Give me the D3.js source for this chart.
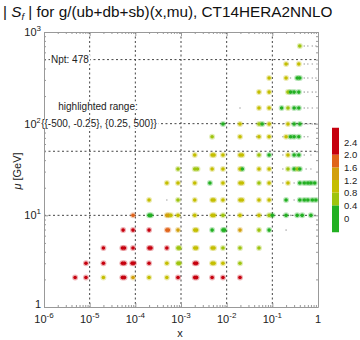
<!DOCTYPE html>
<html><head><meta charset="utf-8">
<script src="https://cdn.jsdelivr.net/npm/d3@7"></script>
<style>body{margin:0;background:#fff}svg{display:block;font-family:"Liberation Sans",Arial,sans-serif}</style>
</head><body><svg id="c" width="360" height="340"></svg>
<script>
// ---- data ----
const rowMu = [2.1, 3.0, 4.4, 6.9, 10, 14.7, 22.5, 32, 45.5, 72, 99, 148, 221, 315, 447, 703];
const rowX = [
 [4.8e-6, 8.3e-6, 2.0e-5, 5.2e-5, 5.8e-5, 8.9e-5, 2.0e-4, 4.9e-4, 8.6e-4, 2.0e-3, 2.2e-3, 4.8e-3, 8.3e-3, 1.96e-2],
 [8.3e-6, 2.0e-5, 5.2e-5, 5.8e-5, 8.5e-5, 9.3e-5, 2.0e-4, 4.9e-4, 8.6e-4, 9.3e-4, 2.0e-3, 2.2e-3, 4.8e-3, 5.3e-3, 8.3e-3, 1.96e-2],
 [2.0e-5, 5.2e-5, 5.8e-5, 8.9e-5, 2.0e-4, 2.2e-4, 4.9e-4, 8.6e-4, 9.3e-4, 2.0e-3, 2.2e-3, 4.8e-3, 5.3e-3, 8.3e-3, 1.96e-2, 5.1e-2],
 [5.4e-5, 8.9e-5, 2.0e-4, 4.9e-4, 5.3e-4, 8.6e-4, 2.0e-3, 2.2e-3, 4.8e-3, 8.3e-3, 9.0e-3, 1.96e-2, 5.1e-2, 8.5e-2, 0.2],
 [8.9e-5, 2.0e-4, 2.2e-4, 4.9e-4, 5.3e-4, 6.0e-4, 8.6e-4, 2.0e-3, 4.8e-3, 5.3e-3, 8.3e-3, 1.96e-2, 5.1e-2, 8.5e-2, 0.1, 0.2, 0.25, 0.35, 0.45, 0.7],
 [2.0e-4, 4.9e-4, 8.6e-4, 2.0e-3, 4.8e-3, 5.3e-3, 8.3e-3, 1.96e-2, 2.2e-2, 5.1e-2, 8.5e-2, 0.2, 0.3, 0.4, 0.5, 0.6, 0.75, 0.9],
 [4.9e-4, 8.6e-4, 2.0e-3, 4.3e-3, 8.3e-3, 1.96e-2, 2.2e-2, 5.1e-2, 8.5e-2, 0.17, 0.22, 0.3, 0.4, 0.5, 0.6, 0.7, 0.85],
 [8.6e-4, 2.0e-3, 2.3e-3, 4.8e-3, 8.3e-3, 1.96e-2, 2.2e-2, 5.1e-2, 8.5e-2, 0.17, 0.22, 0.3, 0.35, 0.4, 0.55, 0.7],
 [2.0e-3, 4.8e-3, 5.3e-3, 8.3e-3, 1.96e-2, 2.2e-2, 5.1e-2, 8.5e-2, 0.17, 0.22, 0.3, 0.38, 0.5, 0.7],
 [4.8e-3, 1.96e-2, 4.5e-2, 5.1e-2, 8.5e-2, 0.17, 0.2, 0.25, 0.3, 0.38, 0.5, 0.6],
 [8.3e-3, 1.96e-2, 5.1e-2, 6.0e-2, 8.5e-2, 0.17, 0.22, 0.3, 0.4, 0.5, 0.6, 0.75, 0.9],
 [1.96e-2, 5.1e-2, 8.5e-2, 0.16, 0.22, 0.3, 0.38, 0.5, 0.6, 0.75, 0.95],
 [5.1e-2, 8.5e-2, 0.22, 0.25, 0.3, 0.38, 0.5, 0.6, 0.75, 0.9],
 [8.5e-2, 0.2, 0.25, 0.35, 0.4, 0.5, 0.6, 0.75, 0.9],
 [0.2, 0.22, 0.38, 0.5, 0.6, 0.75, 0.95],
 [0.4, 0.5, 0.6, 0.75, 0.9]
];
const rowS = [
 [2.5, 2.4, 1.0, 2.5, 2.3, 1.4, 1.1, 1.0, 2.5, 2.5, 2.3, 2.1, 2.0, 2.6],
 [2.4, 2.4, 2.5, 2.4, 2.5, 2.3, 2.6, 1.0, 0.6, 0.5, 2.4, 2.3, 0.9, 0.8, 0.9, 0.6],
 [2.4, 2.5, 2.4, 2.3, 2.4, 2.3, 2.6, 0.7, 0.6, 0.9, 0.8, 0.9, 0.8, 0.7, 0.6, 0.6],
 [2.4, 2.3, 2.5, 1.9, 1.8, 1.5, 0.9, 0.8, 0.35, 0.35, 0.3, 1.5, 0.6, 0.3, 0.1],
 [1.6, 0.35, 0.3, 1.4, 1.2, 1.0, 1.0, 1.0, 1.0, 0.9, 0.4, 1.0, 0.9, 0.7, 0.35, 0.35, 0.1, 0.35, 0.35, 0.35],
 [0.9, 0.1, 0.7, 0.9, 0.9, 0.8, 0.9, 0.9, 0.8, 0.8, 0.8, 0.35, 0.1, 0.35, 0.35, 0.35, 0.35, 0.35],
 [0.9, 0.8, 0.9, 0.35, 0.9, 0.9, 0.8, 0.4, 0.8, 0.1, 0.9, 0.1, 0.35, 0.35, 0.35, 0.35, 0.35],
 [0.7, 0.6, 0.5, 0.9, 0.9, 0.9, 0.35, 0.8, 0.8, 0.1, 0.6, 0.35, 0.4, 0.35, 0.1, 0.1],
 [0.9, 0.9, 0.8, 0.9, 0.9, 0.8, 0.4, 0.35, 0.1, 0.9, 0.35, 0.35, 0.1, 0.1],
 [0.4, 0.9, 0.1, 0.8, 0.8, 0.1, 0.9, 0.35, 0.35, 0.35, 0.1, 0.1],
 [0.35, 0.9, 0.5, 0.35, 0.8, 0.1, 0.9, 0.35, 0.35, 0.1, 0.1, 0.1, 0.1],
 [0.1, 0.9, 0.9, 0.35, 0.6, 0.35, 0.35, 0.1, 0.1, 0.1, 0.1],
 [0.9, 0.9, 0.4, 0.35, 0.35, 0.35, 0.1, 0.1, 0.1, 0.1],
 [0.9, 0.9, 0.1, 0.35, 0.35, 0.1, 0.1, 0.1, 0.1],
 [0.9, 0.1, 0.9, 0.1, 0.1, 0.1, 0.1],
 [0.7, 0.1, 0.1, 0.1, 0.1]
];
const xMajor = [1e-6, 1e-5, 1e-4, 1e-3, 1e-2, 1e-1, 1];
const xExp = ["-6", "-5", "-4", "-3", "-2", "-1", ""];
const yMajor = [1, 10, 100, 1000];
const yExp = ["", "1", "2", "3"];
const gridX = [1e-5, 1e-4, 1e-3, 1e-2, 1e-1];
const gridY = [10, 50, 100, 500];
const cbBreaks = [-0.45, 0.4, 0.8, 1.2, 1.6, 2.0, 2.85];
const cbColors = ["#22b022", "#9ec40e", "#c4be00", "#d2a00c", "#e0641a", "#c6000e"];
const cbTicks = [0, 0.4, 0.8, 1.2, 1.6, 2.0, 2.4];
const threshold = 0.25;

// ---- drawing ----
const svg = d3.select("#c");
const L = 44, R = 318, T = 32, B = 307;
const x = d3.scaleLog().domain([1e-6, 1]).range([L, R]);
const y = d3.scaleLog().domain([1, 1000]).range([B, T]);
const color = d3.scaleThreshold().domain(cbBreaks.slice(1, -1)).range(cbColors);

// grid
svg.append("g").selectAll("line").data(gridX).join("line")
  .attr("x1", d => x(d)).attr("x2", d => x(d)).attr("y1", T).attr("y2", B)
  .attr("stroke", "#444").attr("stroke-width", 1).attr("stroke-dasharray", "2,2.5");
svg.append("g").selectAll("line").data(gridY).join("line")
  .attr("y1", d => y(d)).attr("y2", d => y(d)).attr("x1", L).attr("x2", R)
  .attr("stroke", "#444").attr("stroke-width", 1).attr("stroke-dasharray", "2,2.5");

// axes (frame with inward ticks)
function minors(lo, hi) { const a = []; for (let e = lo; e < hi; e++) for (let k = 1; k <= 9; k++) a.push(k * Math.pow(10, e)); a.push(Math.pow(10, hi)); return a; }
const xT = minors(-6, 0), yT = minors(0, 3);
const isMajor = v => Math.abs(Math.log10(v) - Math.round(Math.log10(v))) < 1e-9;
function styleAxis(g) {
  g.select(".domain").attr("stroke", "#999");
  g.selectAll(".tick line").attr("stroke", "#999");
  g.selectAll(".tick text").remove();
}
function tickLen(g, orient) {
  g.selectAll(".tick line").each(function (d) {
    const len = isMajor(d) ? 4 : 2;
    const s = d3.select(this);
    if (orient === "b") s.attr("y2", -len); if (orient === "t") s.attr("y2", len);
    if (orient === "l") s.attr("x2", len); if (orient === "r") s.attr("x2", -len);
  });
}
const gb = svg.append("g").attr("transform", `translate(0,${B})`).call(d3.axisBottom(x).tickValues(xT).tickSizeOuter(0)); styleAxis(gb); tickLen(gb, "b");
const gt = svg.append("g").attr("transform", `translate(0,${T})`).call(d3.axisTop(x).tickValues(xT).tickSizeOuter(0)); styleAxis(gt); tickLen(gt, "t");
const gl = svg.append("g").attr("transform", `translate(${L},0)`).call(d3.axisLeft(y).tickValues(yT).tickSizeOuter(0)); styleAxis(gl); tickLen(gl, "l");
const gr = svg.append("g").attr("transform", `translate(${R},0)`).call(d3.axisRight(y).tickValues(yT).tickSizeOuter(0)); styleAxis(gr); tickLen(gr, "r");

// tick labels
const xl = svg.append("g").attr("font-size", 11).attr("fill", "#222");
xMajor.forEach((v, i) => {
  const t = xl.append("text").attr("x", x(v)).attr("y", 323).attr("text-anchor", "middle");
  if (xExp[i] === "") t.text("1");
  else { t.append("tspan").text("10"); t.append("tspan").attr("dy", -5).attr("font-size", 8).text(xExp[i]); }
});
const yl = svg.append("g").attr("font-size", 11).attr("fill", "#222");
yMajor.forEach((v, i) => {
  const t = yl.append("text").attr("x", 41).attr("y", i === 0 ? y(v) + 1 : y(v) + 4).attr("text-anchor", "end");
  if (yExp[i] === "") t.text("1");
  else { t.append("tspan").text("10"); t.append("tspan").attr("dy", -5).attr("font-size", 8).text(yExp[i]); }
});

// axis titles
svg.append("text").attr("x", 180).attr("y", 337).attr("text-anchor", "middle").attr("font-size", 11).attr("fill", "#222").text("x");
const yt = svg.append("text").attr("transform", "translate(21,171) rotate(-90)").attr("text-anchor", "middle").attr("font-size", 11).attr("fill", "#222");
yt.append("tspan").attr("font-style", "italic").text("μ");
yt.append("tspan").text(" [GeV]");

// title
const tt = svg.append("text").attr("x", 3).attr("y", 17).attr("font-size", 15.3).attr("fill", "#111");
tt.append("tspan").text("| ");
tt.append("tspan").attr("font-style", "italic").text("S");
tt.append("tspan").attr("font-style", "italic").attr("font-size", 9.5).attr("dy", 3).text("f");
tt.append("tspan").attr("dy", -3).text(" | for  g/(ub+db+sb)(x,mu), CT14HERA2NNLO");

// annotations
function label(txt, cx, cy, anchor) {
  const g = svg.append("g");
  const t = g.append("text").attr("x", cx).attr("y", cy + 3.5).attr("text-anchor", anchor).attr("font-size", 10).attr("fill", "#222").text(txt);
  const bb = t.node().getBBox();
  g.insert("rect", "text").attr("x", bb.x - 1).attr("y", bb.y + 1).attr("width", bb.width + 2).attr("height", bb.height - 2).attr("fill", "#fff");
}
label("Npt: 478", 51, y(500), "start");
label("highlighted range:", 98, 106, "middle");
label("{{-500, -0.25}, {0.25, 500}}", 99, y(100), "middle");

// points
const pts = [];
rowMu.forEach((m, i) => rowX[i].forEach((xv, j) => pts.push({ x: xv, mu: m, s: rowS[i][j] })));
const gp = svg.append("g");
gp.selectAll("circle.lo").data(pts.filter(d => d.s < threshold)).join("circle")
  .attr("cx", d => x(d.x)).attr("cy", d => y(d.mu)).attr("r", 0.8).attr("fill", "#aaa");
const hi = pts.filter(d => d.s >= threshold);
gp.selectAll("circle.halo").data(hi).join("circle")
  .attr("cx", d => x(d.x)).attr("cy", d => y(d.mu)).attr("r", 3).attr("fill", d => color(d.s)).attr("opacity", 0.3);
gp.selectAll("circle.hi").data(hi).join("circle")
  .attr("cx", d => x(d.x)).attr("cy", d => y(d.mu)).attr("r", 1.8).attr("fill", d => color(d.s));

// colorbar
const cb = d3.scaleLinear().domain([0, 2.4]).range([218, 142]);
const segs = cbColors.map((c, i) => ({ a: cbBreaks[i], b: cbBreaks[i + 1], c }));
svg.append("g").selectAll("rect").data(segs).join("rect")
  .attr("x", 332).attr("width", 7).attr("y", d => cb(d.b)).attr("height", d => cb(d.a) - cb(d.b)).attr("fill", d => d.c);
svg.append("g").selectAll("text").data(cbTicks).join("text")
  .attr("x", 344).attr("y", d => cb(d) + 3.5).attr("font-size", 9.5).attr("fill", "#222")
  .text(d => d === 0 ? "0" : d.toFixed(1));
</script></body></html>
